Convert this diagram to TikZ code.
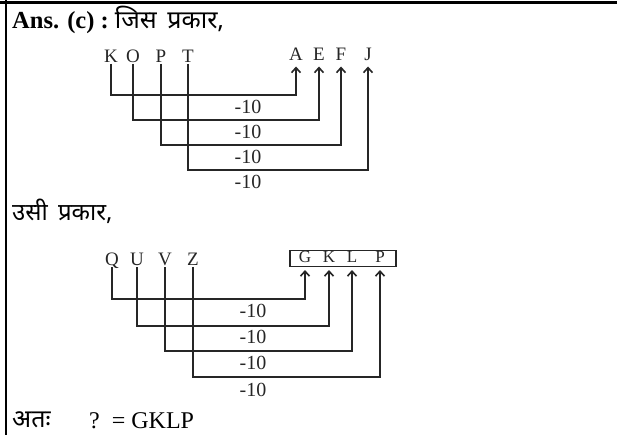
\documentclass[tikz,border=0pt]{standalone}
\usepackage{fontspec}
\setmainfont{Liberation Serif}
\newfontfamily\hindi[Script=Devanagari]{Noto Sans}
\usetikzlibrary{arrows.meta}
\definecolor{ink}{HTML}{262626}
\tikzset{
  lt/.style={inner sep=1pt, text height=12.5pt, text depth=0pt, font=\fontsize{19}{19}\selectfont, text=ink},
  blt/.style={inner sep=1pt, text height=11pt, text depth=0pt, font=\fontsize{17}{17}\selectfont, text=ink},
  lbl/.style={inner sep=0pt, font=\fontsize{20}{20}\selectfont, text=ink},
  conn/.style={draw=ink, line width=1.6pt, -{Straight Barb[length=5pt,width=9pt,line width=1.6pt]}, shorten >=4.5pt},
  frame/.style={draw=black, line width=2.8pt}
}
\begin{document}
\begin{tikzpicture}[x=1pt,y=-1pt]
\useasboundingbox (0,0) rectangle (617,435);
\fill[white] (0,0) rectangle (617,435);
\draw[frame] (0,2.8) -- (617,2.8);
\draw[frame] (6,0) -- (6,435);

% title
\node[anchor=base west, inner sep=0pt] (title) at (12,29)
  {\fontsize{24.5}{26}\selectfont\bfseries Ans. (c) :\ \mdseries\hindi\fontsize{25}{26}\selectfont जिस\hspace{4pt} प्रकार,};

% first diagram
\node[lt, anchor=south] (K) at (111,64) {K};
\node[lt, anchor=south] (O) at (133,64) {O};
\node[lt, anchor=south] (P1) at (161,64) {P};
\node[lt, anchor=south] (T) at (188,64) {T};
\node[lt, anchor=south] (A) at (296,62) {A};
\node[lt, anchor=south] (E) at (319,62) {E};
\node[lt, anchor=south] (F) at (341,62) {F};
\node[lt, anchor=south] (J) at (368,62) {J};

\draw[conn] (K.south) -- (K.south |- 0,95) -| (A.south);
\draw[conn] (O.south) -- (O.south |- 0,120) -| (E.south);
\draw[conn] (P1.south) -- (P1.south |- 0,145) -| (F.south);
\draw[conn] (T.south) -- (T.south |- 0,170) -| (J.south);

\node[lbl] (l1) at (248,107) {-10};
\node[lbl] (l2) at (248,132) {-10};
\node[lbl] (l3) at (248,157) {-10};
\node[lbl] (l4) at (248,182) {-10};

% second heading
\node[anchor=base west, inner sep=0pt] (same) at (12,221)
  {\hindi\fontsize{24}{26}\selectfont उसी\hspace{4pt} प्रकार,};

% second diagram
\node[lt, anchor=south] (Q) at (112,267) {Q};
\node[lt, anchor=south] (U) at (137,267) {U};
\node[lt, anchor=south] (V) at (165,267) {V};
\node[lt, anchor=south] (Z) at (193,267) {Z};
\node[draw=ink, line width=1.6pt, anchor=north west, minimum width=106pt, minimum height=16pt, inner sep=0pt] (box) at (289,249.5) {};
\node[blt, anchor=south] (G) at (305,264) {G};
\node[blt, anchor=south] (K2) at (329,264) {K};
\node[blt, anchor=south] (L) at (352,264) {L};
\node[blt, anchor=south] (P2) at (380,264) {P};

\draw[conn, shorten >=6pt] (Q.south) -- (Q.south |- 0,299) -| (G.south);
\draw[conn, shorten >=6pt] (U.south) -- (U.south |- 0,326) -| (K2.south);
\draw[conn, shorten >=6pt] (V.south) -- (V.south |- 0,351) -| (L.south);
\draw[conn, shorten >=6pt] (Z.south) -- (Z.south |- 0,377) -| (P2.south);

\node[lbl] (m1) at (253,311) {-10};
\node[lbl] (m2) at (253,337) {-10};
\node[lbl] (m3) at (253,363) {-10};
\node[lbl] (m4) at (253,390) {-10};

% answer
\node[anchor=base west, inner sep=0pt] (atah) at (12,427)
  {\hindi\fontsize{25}{26}\selectfont अतः};
\node[anchor=base west, inner sep=0pt] (res) at (89,428)
  {\fontsize{24}{26}\selectfont ?\hspace{12pt}= GKLP};
\end{tikzpicture}
\end{document}
